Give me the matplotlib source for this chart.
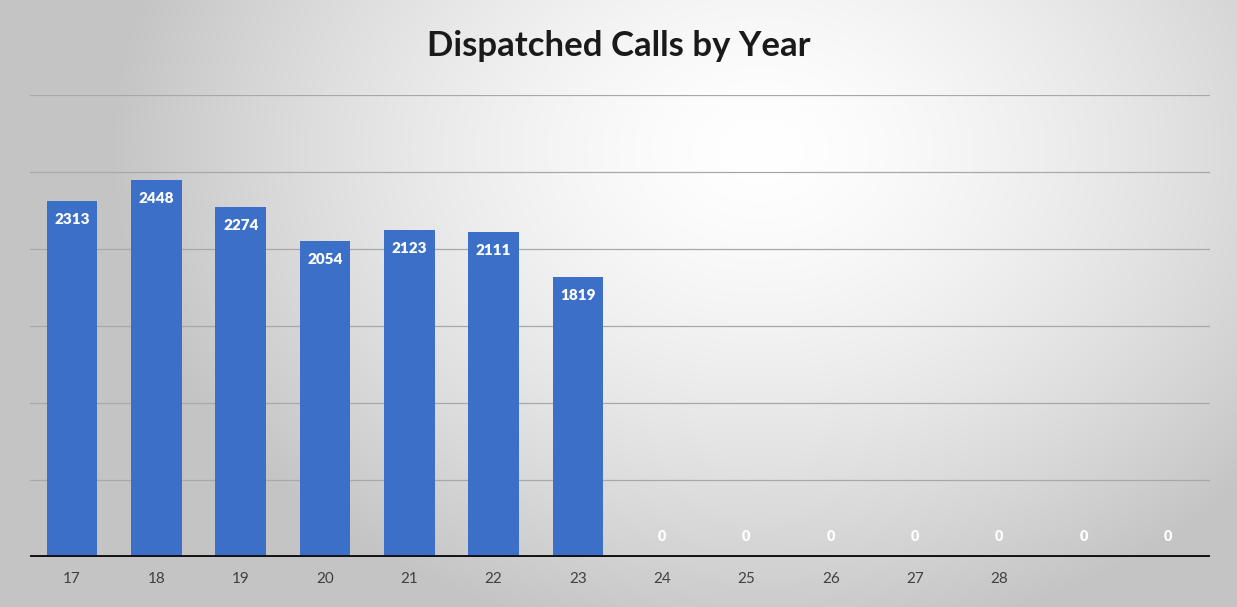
import numpy as np
import matplotlib.pyplot as plt

years = ["17", "18", "19", "20", "21", "22", "23", "24", "25", "26", "27", "28", "", ""]
calls = [2313, 2448, 2274, 2054, 2123, 2111, 1819, 0, 0, 0, 0, 0, 0, 0]
gridvals = [500, 1000, 1500, 2000, 2500, 3000]

plt.rcParams["font.family"] = ["Lato", "DejaVu Sans"]

fig = plt.figure(figsize=(12.37, 6.07), dpi=100)

# background: gray with a white glow over the upper middle/right
bg = fig.add_axes([0, 0, 1, 1], zorder=0)
h, w = 607, 1237
yy, xx = np.mgrid[0:h, 0:w]
d = np.sqrt(((xx - 760) / 560.0) ** 2 + ((yy - 150) / 430.0) ** 2)
light = np.clip(1.0 - 0.8 * d ** 1.5, 0, 1)
val = 0.77 + 0.23 * light
bg.imshow(np.dstack([val, val, val]), aspect="auto", extent=[0, 1, 0, 1], origin="upper")
bg.axis("off")

ax = fig.add_axes([30 / 1237, 1 - 557 / 607, 1180 / 1237, (557 - 95) / 607], zorder=1)
ax.patch.set_alpha(0)

x = np.arange(len(years))
ax.bar(x, calls, width=0.6, color="#3b6fc8", zorder=2)

for g in gridvals:
    ax.axhline(g, color="#a8a8a8", lw=0.9, zorder=1)
ax.axhline(0, color="#111111", lw=2.8, zorder=3)

for xi, v in zip(x, calls):
    if v > 0:
        ax.text(xi, v - 80, str(v), ha="center", va="top", color="white",
                fontsize=11, fontweight="heavy", zorder=4)
    else:
        ax.text(xi, 130, "0", ha="center", va="center", color="white",
                fontsize=10.5, fontweight="heavy", zorder=4)

ax.set_xlim(-0.5, len(years) - 0.5)
ax.set_ylim(0, 3000)
ax.set_xticks(x)
ax.set_xticklabels(years, color="#404040", fontsize=11)
ax.tick_params(axis="x", length=0, pad=11)
ax.set_yticks([])
for s in ax.spines.values():
    s.set_visible(False)

fig.text(0.5, 1 - 46 / 607, "Dispatched Calls by Year", ha="center", va="center",
         fontsize=25, fontweight="bold", color="#1a1a1a")

fig.savefig("out.png", dpi=100)
